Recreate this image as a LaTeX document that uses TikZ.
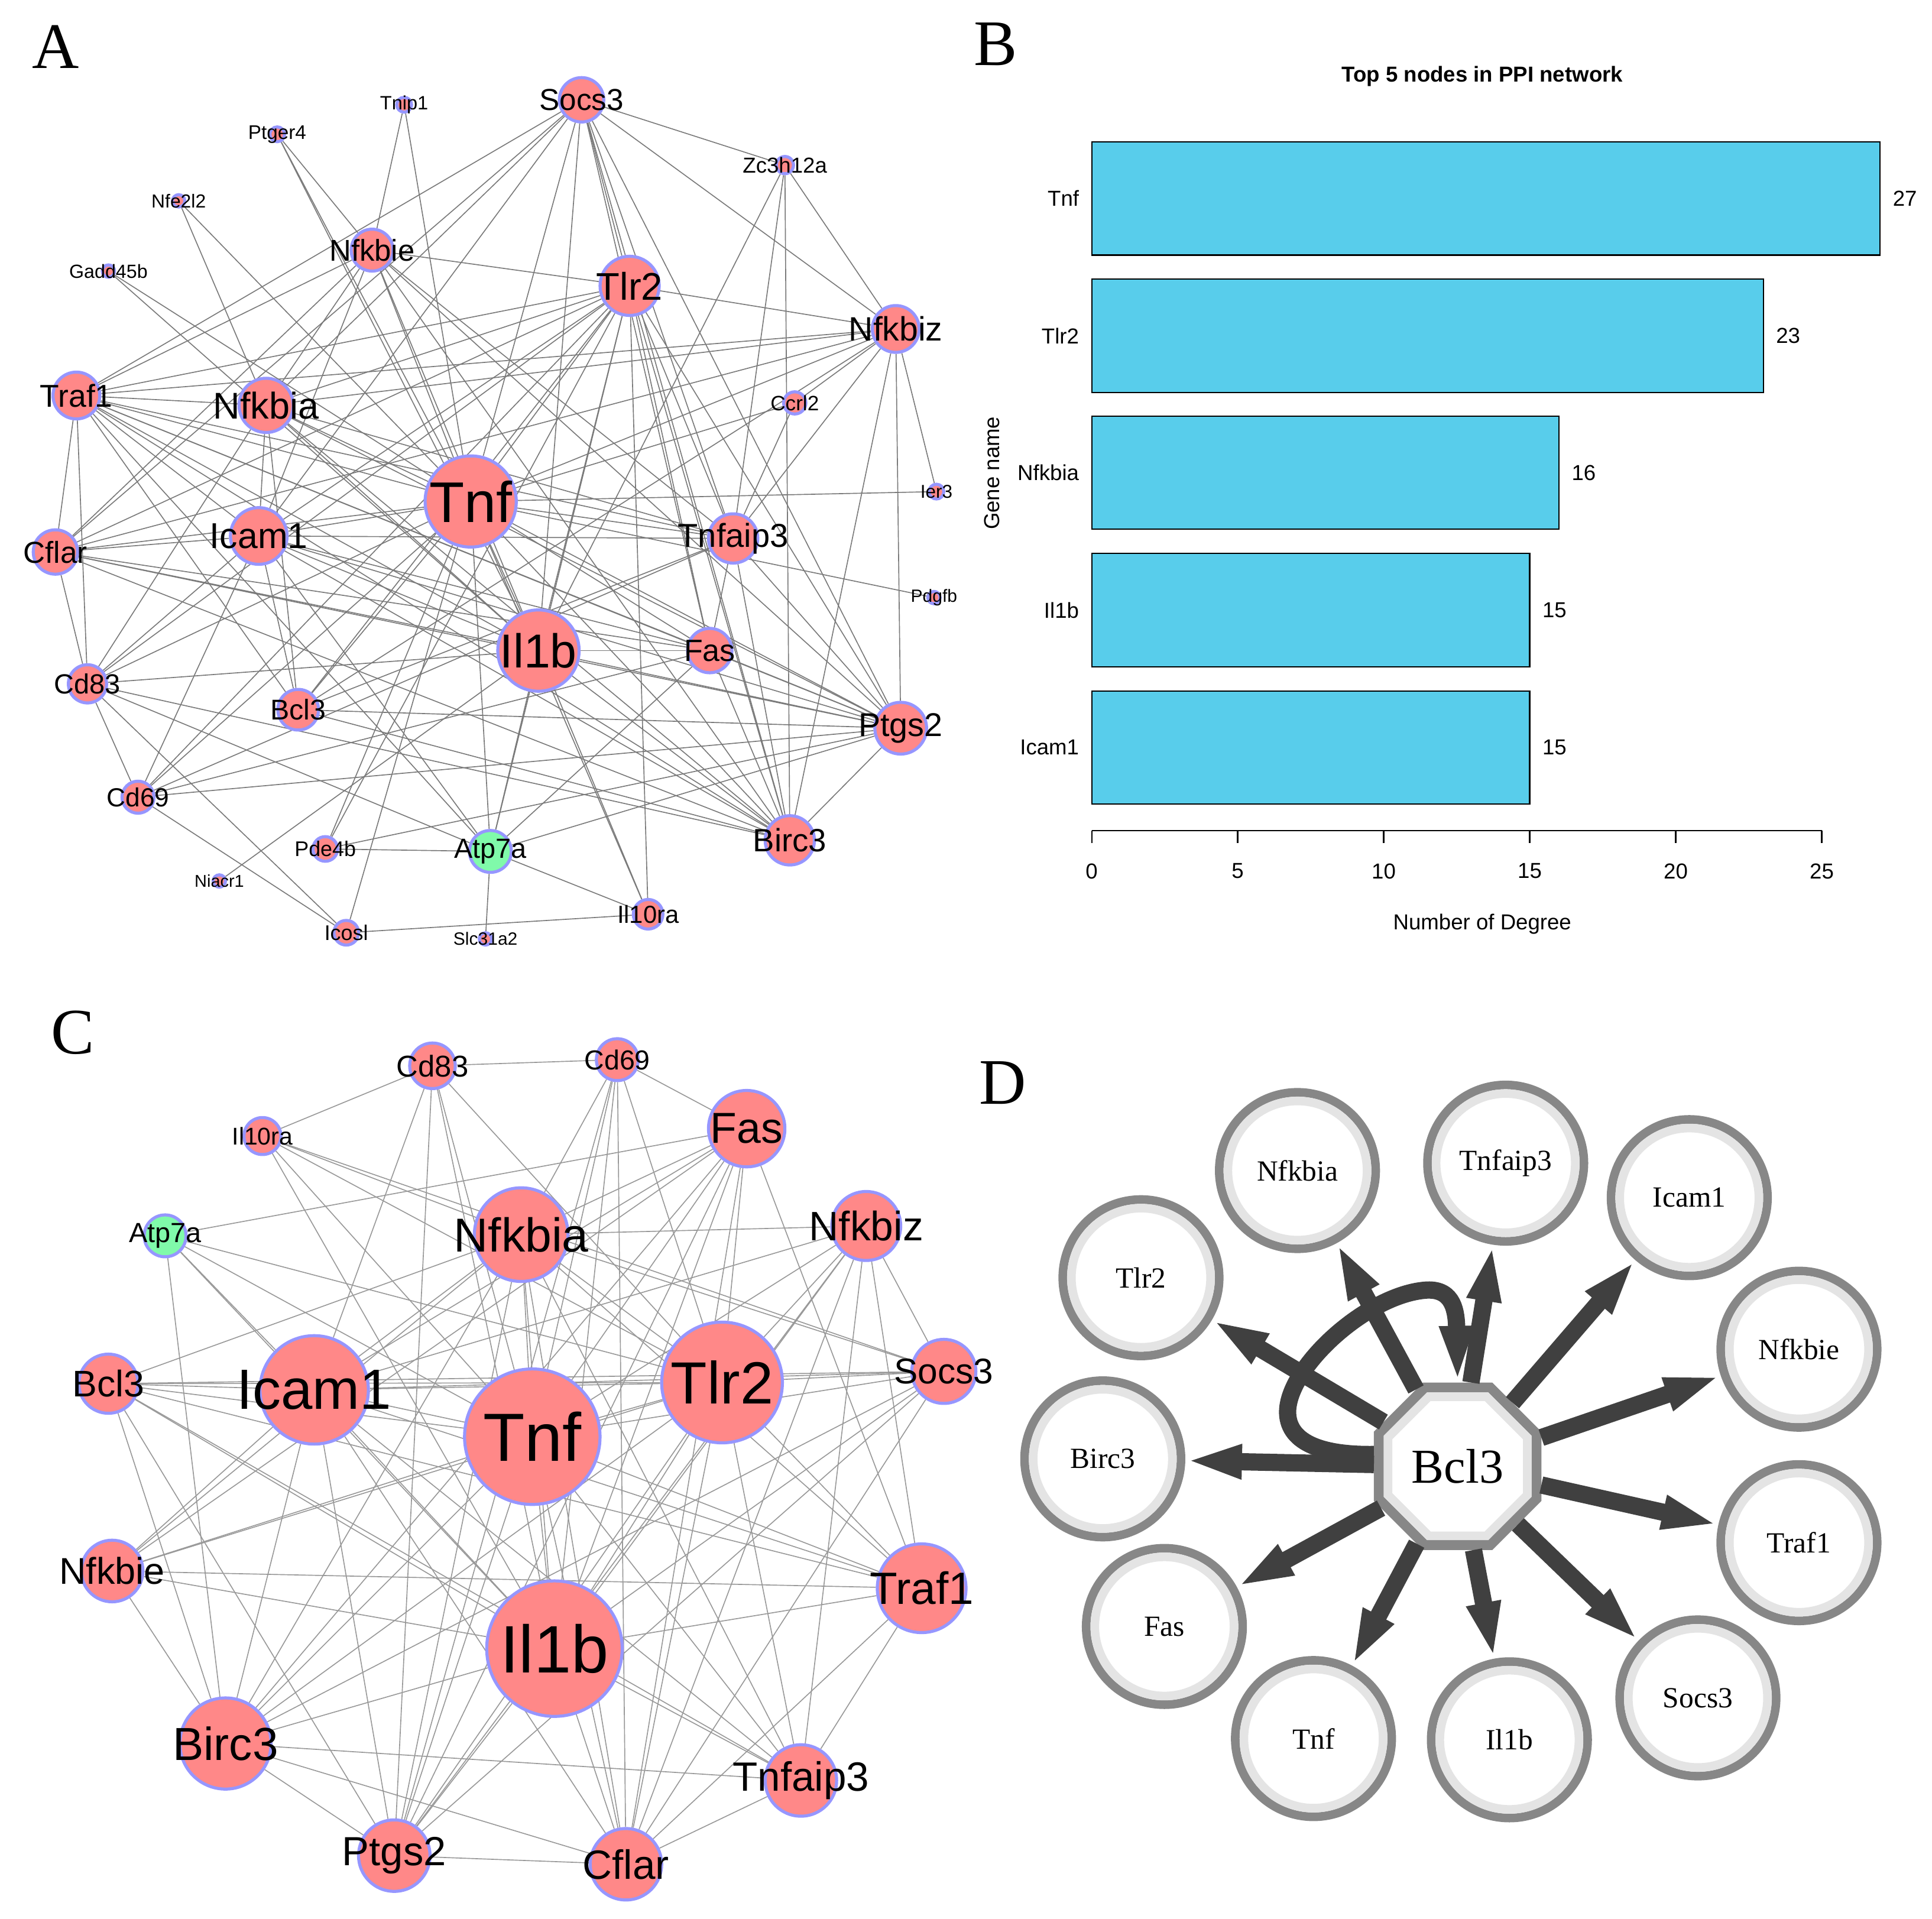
\documentclass[tikz,border=0pt]{standalone}
\usepackage{fontspec}
\setmainfont{Liberation Serif}
\setsansfont{Liberation Sans}
\usetikzlibrary{arrows.meta,shapes.geometric}
\pgfdeclarelayer{bg}
\pgfsetlayers{bg,main}
\definecolor{nodepink}{RGB}{255,136,136}
\definecolor{nodeblue}{RGB}{150,150,255}
\definecolor{nodegreen}{RGB}{128,250,170}
\definecolor{barblue}{RGB}{88,205,235}
\definecolor{ringdark}{RGB}{135,135,135}
\definecolor{ringlight}{RGB}{228,228,228}
\definecolor{arrowgray}{RGB}{64,64,64}
\tikzset{
	pnode/.style={circle,draw=nodeblue,fill=nodepink,line width=0.05cm,inner sep=0pt,minimum size=#1*0.04cm},
	gnode/.style={pnode=#1,fill=nodegreen},
	lab/.style={font=\sffamily\fontsize{#1}{#1}\selectfont,inner sep=0pt},
	aedge/.style={draw=black!52,line width=0.45pt},
	cedge/.style={draw=black!40,line width=0.45pt},
	panel/.style={font=\fontsize{30}{30}\selectfont,inner sep=0pt},
	bbar/.style={fill=barblue,draw=black,line width=0.6pt},
	btxt/.style={font=\sffamily\fontsize{10}{10}\selectfont,inner sep=0pt},
	dring/.style={circle,draw=ringdark,line width=0.14cm,fill=white,minimum size=2.54cm,inner sep=0pt},
	dlab/.style={circle,draw=ringlight,line width=0.14cm,minimum size=2.26cm,inner sep=0pt,font=\fontsize{13.5}{13.5}\selectfont},
	doct/.style={regular polygon,regular polygon sides=8,draw=ringdark,line width=0.16cm,fill=white,minimum size=2.77cm,inner sep=0pt},
	doctin/.style={regular polygon,regular polygon sides=8,draw=ringlight,line width=0.14cm,minimum size=2.446cm,inner sep=0pt,font=\fontsize{22.5}{22.5}\selectfont},
	darr/.style={draw=arrowgray,line width=0.28cm,-{Triangle[length=0.92cm,width=0.5cm]}}
}
\begin{document}
\begin{tikzpicture}[x=0.02cm,y=-0.02cm]
	\useasboundingbox (0,0) rectangle (1568,1557);
	\node[panel] (pA) at (45,38) {A};
	\node[panel] (pB) at (808,36) {B};
	\node[panel] (pC) at (59,838) {C};
	\node[panel] (pD) at (814,879) {D};

	\node[pnode=18,label={[lab=14]center:Socs3}] (aSocs) at (472,81) {};
	\node[pnode=6,label={[lab=8.9]center:Tnip1}] (aTnip) at (328,85) {};
	\node[pnode=6,label={[lab=9.1]center:Ptger4}] (aPtger) at (225,109) {};
	\node[pnode=5,label={[lab=8.7]center:Nfe2l2}] (aNfe) at (145,163) {};
	\node[pnode=5,label={[lab=8.8]center:Gadd45b}] (aGadd) at (88,220) {};
	\node[pnode=7,label={[lab=10]center:Zc3h12a}] (aZc) at (637,134) {};
	\node[pnode=17,label={[lab=13.9]center:Nfkbie}] (aNfkbie) at (302,203) {};
	\node[pnode=24,label={[lab=17.8]center:Tlr2}] (aTlr) at (511,232) {};
	\node[pnode=19,label={[lab=15.6]center:Nfkbiz}] (aNfkbiz) at (727,267) {};
	\node[pnode=19,label={[lab=14.6]center:Traf1}] (aTraf) at (62,321) {};
	\node[pnode=22,label={[lab=17.2]center:Nfkbia}] (aNfkbia) at (216,329) {};
	\node[pnode=9,label={[lab=9.6]center:Ccrl2}] (aCcrl) at (645,327) {};
	\node[pnode=6,label={[lab=8.6]center:Ier3}] (aIer) at (760,399) {};
	\node[pnode=37,label={[lab=26.5]center:Tnf}] (aTnf) at (382,407) {};
	\node[pnode=23,label={[lab=16.6]center:Icam1}] (aIcam) at (210,435) {};
	\node[pnode=18,label={[lab=14]center:Cflar}] (aCflar) at (45,448) {};
	\node[pnode=20,label={[lab=15.3]center:Tnfaip3}] (aTnfaip) at (595,437) {};
	\node[pnode=5,label={[lab=8.2]center:Pdgfb}] (aPdgfb) at (758,485) {};
	\node[pnode=33,label={[lab=22]center:Il1b}] (aIlb) at (437,528) {};
	\node[pnode=18,label={[lab=14.2]center:Fas}] (aFas) at (576,528) {};
	\node[pnode=15.5,label={[lab=12.8]center:Cd83}] (aCd83) at (71,555) {};
	\node[pnode=16.5,label={[lab=13.2]center:Bcl3}] (aBcl) at (242,576) {};
	\node[pnode=21,label={[lab=15.2]center:Ptgs2}] (aPtgs) at (731,591) {};
	\node[pnode=13,label={[lab=12.1]center:Cd69}] (aCd69) at (112,647) {};
	\node[pnode=20,label={[lab=14.9]center:Birc3}] (aBirc) at (641,682) {};
	\node[pnode=10,label={[lab=9.8]center:Pde4b}] (aPde) at (264,689) {};
	\node[gnode=17,label={[lab=12.8]center:Atp7a}] (aAtp) at (398,691) {};
	\node[pnode=5,label={[lab=7.9]center:Niacr1}] (aNiacr) at (178,715) {};
	\node[pnode=12,label={[lab=11.4]center:Il10ra}] (aIl10) at (526,742) {};
	\node[pnode=10,label={[lab=9.8]center:Icosl}] (aIcosl) at (281,757) {};
	\node[pnode=5,label={[lab=8.2]center:Slc31a2}] (aSlc) at (394,762) {};
	\begin{pgfonlayer}{bg}
	\foreach \u/\v in {aTnf/aSocs,aTnf/aTlr,aTnf/aNfkbia,aTnf/aNfkbie,aTnf/aTraf,aTnf/aIcam,aTnf/aCflar,aTnf/aCd83,aTnf/aCd69,
		aTnf/aBcl,aTnf/aIlb,aTnf/aFas,aTnf/aTnfaip,aTnf/aPtgs,aTnf/aBirc,aTnf/aNfkbiz,aTnf/aCcrl,aTnf/aIer,aTnf/aAtp,aTnf/aPde,
		aTnf/aIcosl,aTnf/aIl10,aTnf/aPtger,aTnf/aGadd,aTnf/aNfe,aTnf/aPdgfb,aTnf/aTnip,
		aTlr/aSocs,aTlr/aNfkbia,aTlr/aNfkbie,aTlr/aNfkbiz,aTlr/aTraf,aTlr/aIcam,aTlr/aCflar,aTlr/aCd83,aTlr/aCd69,aTlr/aBcl,
		aTlr/aIlb,aTlr/aFas,aTlr/aTnfaip,aTlr/aPtgs,aTlr/aBirc,aTlr/aIl10,aTlr/aPde,aTlr/aAtp,
		aNfkbia/aSocs,aNfkbia/aNfkbie,aNfkbia/aNfkbiz,aNfkbia/aTraf,aNfkbia/aIcam,aNfkbia/aIlb,aNfkbia/aTnfaip,aNfkbia/aPtgs,
		aNfkbia/aBirc,aNfkbia/aCd83,aNfkbia/aBcl,aNfkbia/aNfe,
		aIlb/aSocs,aIlb/aTraf,aIlb/aIcam,aIlb/aCflar,aIlb/aCd83,aIlb/aFas,aIlb/aPtgs,aIlb/aBirc,aIlb/aIl10,aIlb/aAtp,aIlb/aNiacr,
		aIlb/aZc,aIlb/aPtger,aIlb/aGadd,aIlb/aNfkbie,
		aIcam/aSocs,aIcam/aNfkbie,aIcam/aTraf,aIcam/aCflar,aIcam/aCd83,aIcam/aCd69,aIcam/aBcl,aIcam/aFas,aIcam/aTnfaip,
		aIcam/aPtgs,aIcam/aBirc,aIcam/aAtp,
		aSocs/aZc,aSocs/aNfkbiz,aSocs/aCflar,aSocs/aTnfaip,aSocs/aFas,aSocs/aBirc,aSocs/aPtgs,aSocs/aTraf,
		aNfkbiz/aZc,aNfkbiz/aTraf,aNfkbiz/aCflar,aNfkbiz/aCcrl,aNfkbiz/aIer,aNfkbiz/aPtgs,aNfkbiz/aBirc,aNfkbiz/aTnfaip,aNfkbiz/aBcl,
		aNfkbie/aTnip,aNfkbie/aPtger,aNfkbie/aTraf,aNfkbie/aCflar,aNfkbie/aTnfaip,aNfkbie/aBirc,aNfkbie/aPtgs,
		aTraf/aCflar,aTraf/aCd83,aTraf/aBcl,aTraf/aTnfaip,aTraf/aFas,aTraf/aPtgs,aTraf/aBirc,aTraf/aAtp,
		aCflar/aCd83,aCflar/aFas,aCflar/aPtgs,aCflar/aBirc,
		aCd83/aCd69,aCd83/aIcosl,aCd83/aAtp,aCd83/aBirc,
		aCd69/aIcosl,aCd69/aFas,aCd69/aTnfaip,aCd69/aPtgs,
		aBcl/aPtgs,aBcl/aBirc,aBcl/aTnfaip,
		aFas/aPtgs,aFas/aBirc,aFas/aAtp,aFas/aTnfaip,
		aTnfaip/aPtgs,aTnfaip/aBirc,aTnfaip/aZc,aTnfaip/aCcrl,
		aPtgs/aAtp,aPtgs/aPde,aPtgs/aBirc,
		aAtp/aPde,aAtp/aSlc,aAtp/aIl10,aIcosl/aIl10,aZc/aBirc}
		\draw[aedge] (\u) -- (\v);
	\end{pgfonlayer}

	\node[btxt,font=\sffamily\bfseries\fontsize{10}{10}\selectfont] (btitle) at (1203,62) {Top 5 nodes in PPI network};
	\foreach \g/\v/\t [count=\i] in {Tnf/27/115,Tlr2/23/226.6,Nfkbia/16/337.6,Il1b/15/449.2,Icam1/15/560.7}{
		\draw[bbar] (886,\t) rectangle ({886+\v*23.7},{\t+92});
		\node[btxt,anchor=east] (bn\i) at (876,{\t+46}) {\g};
		\node[btxt,anchor=west] (bv\i) at ({896+\v*23.7},{\t+46}) {\v};
	}
	\draw[line width=0.6pt] (886,674) -- (1478.5,674);
	\foreach \k in {0,5,...,25}{
		\draw[line width=0.6pt] ({886+\k*23.7},674) -- ({886+\k*23.7},684);
		\node[btxt] (bt\k) at ({886+\k*23.7},707) {\k};
	}
	\node[btxt] (bxlab) at (1203,750) {Number of Degree};
	\node[btxt,rotate=90] (bylab) at (805,384) {Gene name};

	\node[pnode=18.5,label={[lab=13.9]center:Cd83}] (cCd83) at (351,865) {};
	\node[pnode=17,label={[lab=12.7]center:Cd69}] (cCd69) at (501,860) {};
	\node[pnode=15,label={[lab=11.2]center:Il10ra}] (cIl10) at (213,922) {};
	\node[pnode=31,label={[lab=20]center:Fas}] (cFas) at (606,916) {};
	\node[gnode=17,label={[lab=12.8]center:Atp7a}] (cAtp) at (134,1003) {};
	\node[pnode=38,label={[lab=22]center:Nfkbia}] (cNfkbia) at (423,1002) {};
	\node[pnode=28,label={[lab=19]center:Nfkbiz}] (cNfkbiz) at (703,995) {};
	\node[pnode=24,label={[lab=17.1]center:Bcl3}] (cBcl) at (88,1123) {};
	\node[pnode=44,label={[lab=26.2]center:Icam1}] (cIcam) at (255,1128) {};
	\node[pnode=55,label={[lab=31.5]center:Tnf}] (cTnf) at (432,1166) {};
	\node[pnode=49,label={[lab=27.5]center:Tlr2}] (cTlr) at (586,1122) {};
	\node[pnode=26,label={[lab=16.5]center:Socs3}] (cSocs) at (766,1113) {};
	\node[pnode=25,label={[lab=17.2]center:Nfkbie}] (cNfkbie) at (91,1275) {};
	\node[pnode=55,label={[lab=31]center:Il1b}] (cIlb) at (450,1338) {};
	\node[pnode=36,label={[lab=20.9]center:Traf1}] (cTraf) at (748,1289) {};
	\node[pnode=37,label={[lab=21.4]center:Birc3}] (cBirc) at (183,1415) {};
	\node[pnode=29,label={[lab=18.9]center:Tnfaip3}] (cTnfaip) at (650,1445) {};
	\node[pnode=29,label={[lab=18.8]center:Ptgs2}] (cPtgs) at (320,1506) {};
	\node[pnode=29,label={[lab=18.9]center:Cflar}] (cCflar) at (508,1513) {};
	\begin{pgfonlayer}{bg}
	\foreach \u/\v in {cCd83/cCd69,cCd83/cIl10,cCd83/cIcam,cCd83/cTnf,cCd83/cTlr,cCd83/cIlb,cCd83/cPtgs,
		cCd69/cFas,cCd69/cNfkbia,cCd69/cTnf,cCd69/cIlb,cCd69/cTlr,cCd69/cCflar,cCd69/cPtgs,
		cIl10/cNfkbia,cIl10/cTlr,cIl10/cTnf,cIl10/cIlb,cIl10/cSocs,
		cAtp/cFas,cAtp/cIcam,cAtp/cTnf,cAtp/cTlr,cAtp/cIlb,cAtp/cBirc,
		cFas/cNfkbia,cFas/cTlr,cFas/cTnf,cFas/cIlb,cFas/cIcam,cFas/cBirc,cFas/cPtgs,cFas/cCflar,cFas/cTraf,cFas/cNfkbie,
		cNfkbia/cNfkbiz,cNfkbia/cTnf,cNfkbia/cIlb,cNfkbia/cIcam,cNfkbia/cTlr,cNfkbia/cSocs,cNfkbia/cTraf,cNfkbia/cTnfaip,
		cNfkbia/cBirc,cNfkbia/cPtgs,cNfkbia/cCflar,cNfkbia/cBcl,cNfkbia/cNfkbie,
		cNfkbiz/cTlr,cNfkbiz/cTnf,cNfkbiz/cIlb,cNfkbiz/cSocs,cNfkbiz/cTraf,cNfkbiz/cTnfaip,cNfkbiz/cCflar,cNfkbiz/cIcam,cNfkbiz/cPtgs,
		cSocs/cTlr,cSocs/cTnf,cSocs/cIcam,cSocs/cBcl,cSocs/cIlb,cSocs/cCflar,cSocs/cPtgs,cSocs/cBirc,
		cBcl/cIcam,cBcl/cTnf,cBcl/cTlr,cBcl/cIlb,cBcl/cBirc,cBcl/cPtgs,cBcl/cTraf,cBcl/cTnfaip,
		cIcam/cTnf,cIcam/cTlr,cIcam/cIlb,cIcam/cBirc,cIcam/cPtgs,cIcam/cCflar,cIcam/cNfkbie,cIcam/cTraf,cIcam/cTnfaip,
		cTnf/cTlr,cTnf/cIlb,cTnf/cBirc,cTnf/cPtgs,cTnf/cCflar,cTnf/cNfkbie,cTnf/cTraf,cTnf/cTnfaip,
		cTlr/cIlb,cTlr/cBirc,cTlr/cPtgs,cTlr/cCflar,cTlr/cNfkbie,cTlr/cTraf,cTlr/cTnfaip,
		cIlb/cBirc,cIlb/cPtgs,cIlb/cCflar,cIlb/cNfkbie,cIlb/cTraf,cIlb/cTnfaip,
		cNfkbie/cBirc,cNfkbie/cTraf,cBirc/cPtgs,cBirc/cCflar,cBirc/cTnfaip,
		cPtgs/cCflar,cCflar/cTnfaip,cTraf/cTnfaip,cTraf/cCflar}
		\draw[cedge] (\u) -- (\v);
	\end{pgfonlayer}

	\node[doct] (dbcl) at (1183,1190) {};
	\node[doctin] (dbcl-in) at (1183,1190) {Bcl3};
	\foreach \n/\t/\x/\y in {dnfkbia/Nfkbia/1053/950,dtnfaip/Tnfaip3/1222/944,dicam/Icam1/1371/972,dtlr/Tlr2/926/1037,
		dnfkbie/Nfkbie/1460/1095,dbirc/Birc3/895/1184,dtraf/Traf1/1460/1252,dfas/Fas/945/1320,dsocs/Socs3/1378/1378,
		dtnf/Tnf/1066/1411,dilb/Il1b/1225/1412}{
		\node[dring] (\n) at (\x,\y) {};
		\node[dlab] (\n-in) at (\x,\y) {\t};
	}
	\foreach \n in {dnfkbia,dtnfaip,dicam,dtlr,dnfkbie,dbirc,dtraf,dfas,dsocs,dtnf,dilb}
		\draw[darr] (dbcl) -- (\n);
	\draw[darr] (dbcl.172) .. controls (1075,1181) and (1046,1172) .. (1045,1147)
		.. controls (1044,1110) and (1110,1050) .. (1158,1047)
		.. controls (1180,1046) and (1182,1065) .. (dbcl.north);
\end{tikzpicture}
\end{document}
